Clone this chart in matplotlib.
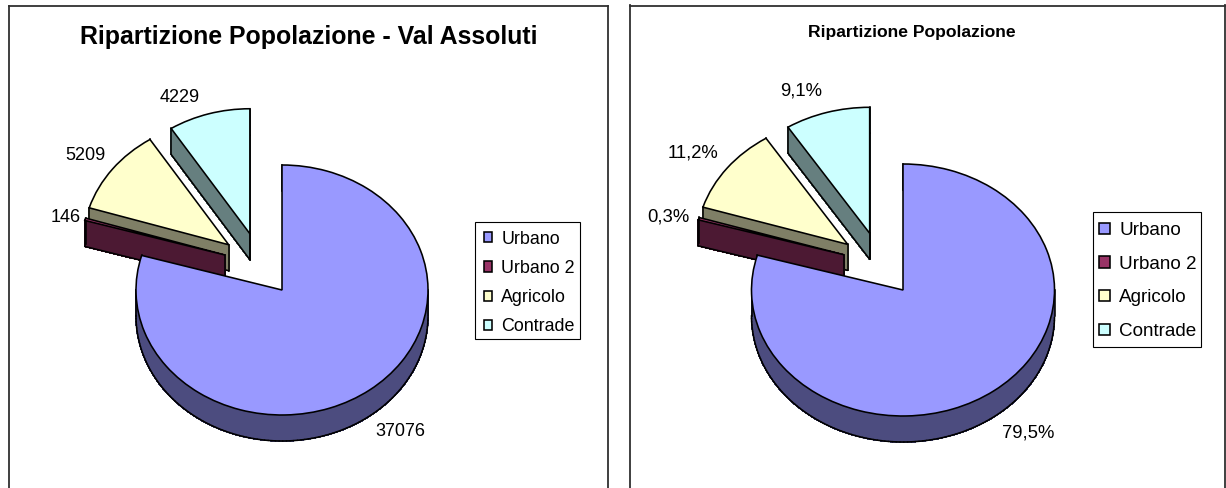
import numpy as np
import matplotlib
matplotlib.use('Agg')
import matplotlib.pyplot as plt
from matplotlib.patches import Wedge, Polygon, Patch, Rectangle

plt.rcParams['font.family'] = ['Liberation Sans', 'DejaVu Sans']

W, H = 1226, 488

categories = ['Urbano', 'Urbano 2', 'Agricolo', 'Contrade']
abitanti = [37076, 146, 5209, 4229]
title_left = 'Ripartizione Popolazione - Val Assoluti'
title_right = 'Ripartizione Popolazione'

top_colors = ['#9999FF', '#993366', '#FFFFCC', '#CCFFFF']
side_colors = ['#4C4C7F', '#4C1933', '#7F7F66', '#667F7F']
# spostamento delle fette, in raggi
explode = [(0, 0), (-0.39, 0.28), (-0.365, 0.362), (-0.22, 0.45)]
DEPTH = 26


def draw_pie(frame, center, rx, ry, labels, label_xy, label_size, title, title_xy, title_size,
             legend_box, legend_xy, legend_size, legend_space, handle_size, pad):
    left, right, top = frame
    ax = plt.axes([left / W, 0, (right - left) / W, (H - top) / H])
    ax.set_xlim((left - center[0]) / rx, (right - center[0]) / rx)
    ax.set_ylim((center[1] - H) / ry, (center[1] - top) / ry)
    ax.set_xticks([])
    ax.set_yticks([])
    ax.spines['bottom'].set_visible(False)
    for s in ['left', 'right', 'top']:
        ax.spines[s].set_linewidth(1.3)
        ax.spines[s].set_color('#303030')

    total = sum(abitanti)
    fractions = [v / total for v in abitanti]
    starts = 90 - 360 * np.cumsum([0] + fractions[:-1])
    dz = DEPTH / ry

    # dietro prima, Urbano per ultimo
    z = 2
    for i in [3, 2, 1, 0]:
        t2 = starts[i]
        t1 = t2 - 360 * fractions[i]
        cx, cy = explode[i]
        arc = np.radians(np.linspace(t1, t2, 200))
        xs = np.r_[cx, cx + np.cos(arc)]
        ys = np.r_[cy, cy + np.sin(arc)]

        # pareti laterali: solo i lati rivolti verso il basso
        for j in range(len(xs)):
            k = (j + 1) % len(xs)
            if xs[k] <= xs[j]:
                continue
            ax.add_patch(Polygon([(xs[j], ys[j]), (xs[k], ys[k]), (xs[k], ys[k] - dz), (xs[j], ys[j] - dz)],
                                 facecolor=side_colors[i], edgecolor=side_colors[i], linewidth=0.6,
                                 antialiased=False, zorder=z))
            ax.plot([xs[j], xs[k]], [ys[j] - dz, ys[k] - dz], color='black', linewidth=1.15,
                    solid_capstyle='round', zorder=z + 1)

        verticals = [(cx, cy), (cx + np.cos(np.radians(t1)), cy + np.sin(np.radians(t1))),
                     (cx + np.cos(np.radians(t2)), cy + np.sin(np.radians(t2)))]
        for ext in [-180, -360, 180, 0]:
            if t1 <= ext <= t2:
                verticals.append((cx + np.cos(np.radians(ext)), cy))
        for vx, vy in verticals:
            ax.plot([vx, vx], [vy, vy - dz], color='black', linewidth=1.15, zorder=z + 1)

        ax.add_patch(Wedge((cx, cy), 1, t1, t2, facecolor=top_colors[i], edgecolor='black', linewidth=1.15,
                           zorder=z + 2))
        z += 3

    for txt, (px, py) in zip(labels, label_xy):
        plt.figtext(px / W, 1 - py / H, txt, fontsize=label_size, color='black', ha='center', va='center')
    plt.figtext(title_xy[0] / W, 1 - title_xy[1] / H, title, fontsize=title_size, fontweight='bold',
                ha='center', va='center')

    # cornice della legenda
    bx0, by0, bx1, by1 = legend_box
    plt.gcf().add_artist(Rectangle((bx0 / W, 1 - by1 / H), (bx1 - bx0) / W, (by1 - by0) / H,
                                   transform=plt.gcf().transFigure, facecolor='white',
                                   edgecolor='black', linewidth=0.8))

    handles = [Patch(facecolor=c, edgecolor='black', linewidth=1.15) for c in top_colors]
    leg = plt.gcf().legend(handles, categories, loc='upper left',
                           bbox_to_anchor=(legend_xy[0] / W, 1 - legend_xy[1] / H), fontsize=legend_size,
                           frameon=False, labelspacing=legend_space, handlelength=handle_size,
                           handleheight=handle_size, handletextpad=0.5, borderpad=pad, borderaxespad=0)
    leg.set_zorder(50)


fig = plt.figure(figsize=(W / 100, H / 100), dpi=100)

total_ab = sum(abitanti)
labels_val = [str(v) for v in abitanti]
labels_pct = [f'{v / total_ab * 100:.1f}%'.replace('.', ',') for v in abitanti]

draw_pie((8.5, 608, 5.5), (282, 290), 146, 125, labels_val,
         [(400, 431), (66, 218), (85, 155), (180, 97)], 13,
         title_left, (309, 37), 17.9, (475, 222, 580, 339), (476, 223), 12.9, 0.685, 0.5, 0.42)
draw_pie((630, 1225, 5.5), (903, 290), 151.5, 126, labels_pct,
         [(1028, 433), (668, 217), (693, 153), (801, 91)], 13.3,
         title_right, (912, 32), 12.6, (1093, 212, 1201, 347), (1092, 215), 13.6, 0.88, 0.55, 0.38)

plt.savefig('out.png', dpi=100)
